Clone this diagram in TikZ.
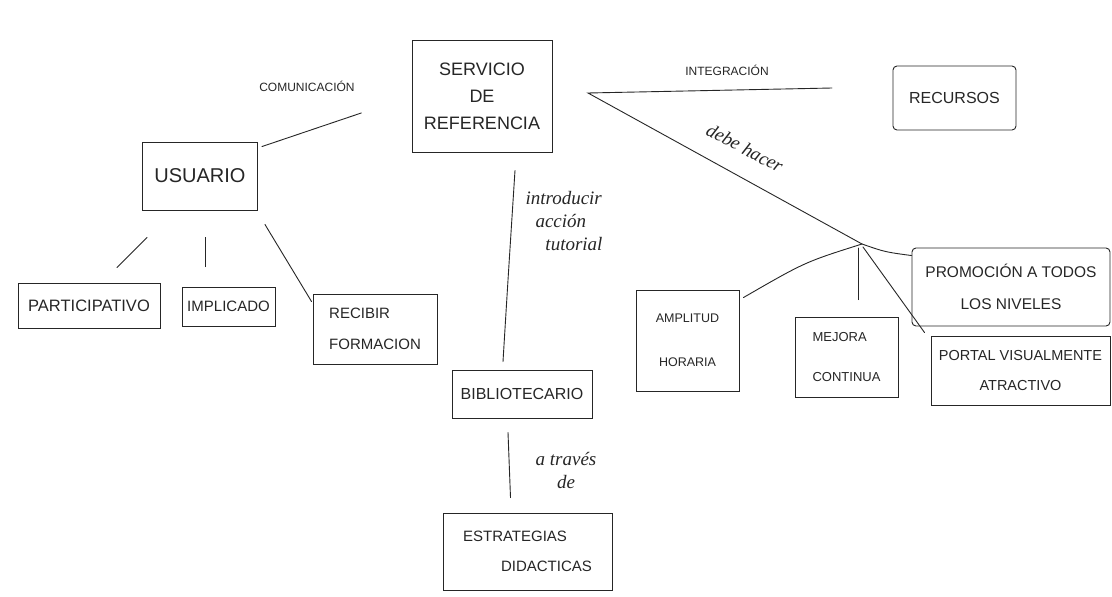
\documentclass[tikz,border=0pt]{standalone}
\usepackage{fontspec}
\setmainfont{Liberation Sans}
\newfontfamily\handfont{Liberation Serif}
\begin{document}
\begin{tikzpicture}[x=1pt,y=-1pt,
  ink/.style={draw=black!85, line width=0.9pt},
  box/.style={ink, inner sep=0pt, align=center, text=black!85},
  wh/.style 2 args={minimum width=#1pt, minimum height=#2pt},
  fs/.style 2 args={font=\fontsize{#1}{#2}\selectfont},
  link/.style={ink, line cap=round},
  lbl/.style={text=black!85, inner sep=0pt, align=center},
  hand/.style={lbl, font=\handfont\itshape\fontsize{19}{23}\selectfont},
]
\useasboundingbox[fill=white] (0,0) rectangle (1112,597);

% concepts
\node[box, wh={140}{112}, fs={18}{27}] (serv) at (482,96) {SERVICIO\\DE\\REFERENCIA};
\node[box, wh={115}{68}, fs={20}{23}] (usu) at (200,176) {USUARIO};
\node[box, wh={142}{45}, fs={16.5}{18}] (part) at (89,305.5) {PARTICIPATIVO};
\node[box, wh={93}{39}, fs={15}{18}] (impl) at (228.5,306.5) {IMPLICADO};
\node[box, wh={124}{70}, fs={15}{31}, align=left] (recib) at (375,329) {RECIBIR\\FORMACION};
\node[box, wh={123}{64}, fs={16}{20}, rounded corners=4pt] (rec) at (954.5,98) {RECURSOS};
\node[box, wh={140}{48}, fs={16}{18}] (bib) at (522,394) {BIBLIOTECARIO};
\node[box, wh={169}{77}, fs={15}{30}, align=left] (estr) at (527.5,551.5) {ESTRATEGIAS\\\hspace*{38pt}DIDACTICAS};
\node[box, wh={103}{101}, fs={12.5}{44}] (ampl) at (687.5,340.5) {AMPLITUD\\HORARIA};
\node[box, wh={103}{80}, fs={13}{40}, align=left] (mej) at (846.5,357) {MEJORA\\CONTINUA};
\node[box, wh={198}{78}, fs={15.5}{32}, rounded corners=4pt] (prom) at (1011,287) {PROMOCIÓN A TODOS\\LOS NIVELES};
\node[box, wh={179}{69}, fs={14.5}{30}] (port) at (1020.5,370.5) {PORTAL VISUALMENTE\\ATRACTIVO};

% branching points
\coordinate (apex) at (588,93);
\coordinate (intEnd) at (832,88);
\coordinate (j) at (862,244);

% connectors
\draw[link, shorten >=53pt] ([shift={(4,5)}]usu.north east) -- (serv.west);
\draw[link] ([shift={(5,27)}]usu.south west) -- ([shift={(28,-15)}]part.north);
\draw[link] ([shift={(5,27)}]usu.south) -- ([shift={(-23.5,-20)}]impl.north);
\draw[link] ([shift={(7,14)}]usu.south east) .. controls ([shift={(-25,-30)}]recib.north west) .. ([shift={(-1,8)}]recib.north west);
\draw[link] ([shift={(33,18)}]serv.south) .. controls ([shift={(-14,-90)}]bib.north) .. ([shift={(-19,-8)}]bib.north);
\draw[link] ([shift={(-14,14)}]bib.south) -- ([shift={(-17,-15)}]estr.north);
\draw[link] (intEnd) -- (apex) -- (j);
\draw[link] (j) .. controls (805,262) .. ([shift={(4,8)}]ampl.north east);
\draw[link] ([shift={(-4,4)}]j) -- ([shift={(11.5,-17)}]mej.north);
\draw[link] (j) .. controls (885,252) .. ([shift={(0,8)}]prom.north west);
\draw[link] ([shift={(1,3)}]j) -- ([shift={(-6,-3)}]port.north west);

% link labels
\node[lbl, font=\fontsize{12}{14}\selectfont] (lcom) at (307,86) {COMUNICACIÓN};
\node[lbl, font=\fontsize{12}{14}\selectfont] (lint) at (727,70) {INTEGRACIÓN};
\node[hand, rotate=-28] (ldeb) at (745,148) {debe hacer};
\node[hand, align=left] (lintro) at (564,221) {introducir\\\hspace*{10pt}acción\\\hspace*{20pt}tutorial};
\node[hand] (ltrav) at (566,470) {a través\\de};
\end{tikzpicture}
\end{document}
